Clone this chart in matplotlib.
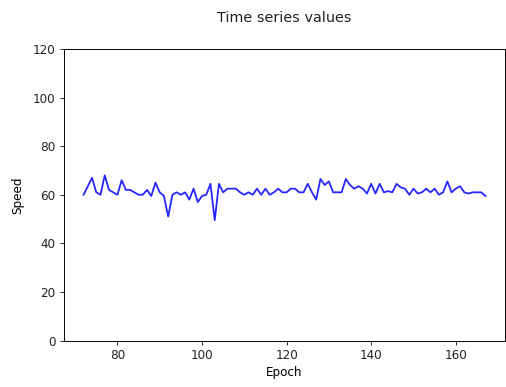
"""Recreate 'Time series values' line chart."""
import numpy as np
import matplotlib
matplotlib.use("Agg")
import matplotlib.pyplot as plt

# ---------------------------------------------------------------------------
# Data
# ---------------------------------------------------------------------------
epochs = list(range(72, 168))
speed = [
    60, 63.5, 67, 61, 60, 68, 62, 61, 60, 66,
    62, 62, 61, 60, 60, 62, 59.5, 65, 61, 59.5,
    51, 60, 61, 60, 61, 58, 62.5, 57, 59.5, 60,
    64.5, 49.5, 64.5, 61, 62.5, 62.5, 62.5, 61, 60, 61,
    60, 62.5, 60, 62.5, 60, 61, 62.5, 61, 61, 62.5,
    62.5, 61, 61, 64.5, 61, 58, 66.5, 64, 65.5, 61,
    61, 61, 66.5, 64, 62.5, 63.5, 62.5, 60.5, 64.5, 60.5,
    64.5, 61, 61.5, 61, 64.5, 63, 62.5, 60, 62.5, 60.5,
    61, 62.5, 61, 62.5, 60, 61, 65.5, 61, 62.5, 63.5,
    61, 60.5, 61, 61, 61, 59.5,
]
y_ticks = [0, 20, 40, 60, 80, 100, 120]

# ---------------------------------------------------------------------------
# Plot (reference looks like 10pt text at ~86 dpi -> 12 px)
# ---------------------------------------------------------------------------
W, H = 506, 387
fig = plt.figure(figsize=(W / 72, H / 72), dpi=72)
ax = fig.add_axes([63.5 / W, (H - 340.5) / H, 442 / W, 291.5 / H])

ax.plot(epochs, speed, color="blue", alpha=0.85, linewidth=1.8)
ax.set_ylim(0, 120)
ax.set_yticks(y_ticks)
ax.set_xlabel("Epoch", fontsize=12, labelpad=4)
ax.set_ylabel("Speed", fontsize=12, labelpad=8)
ax.tick_params(labelsize=12, length=4.2, width=0.95, pad=4, colors="#222222")
for s in ax.spines.values():
    s.set_linewidth(0.95)
fig.text((63.5 + 505) / 2 / W, 1 - 18.5 / H, "Time series values",
         ha="center", va="center", fontsize=14.4, color="#222222")

fig.savefig("out.png", dpi=72)
